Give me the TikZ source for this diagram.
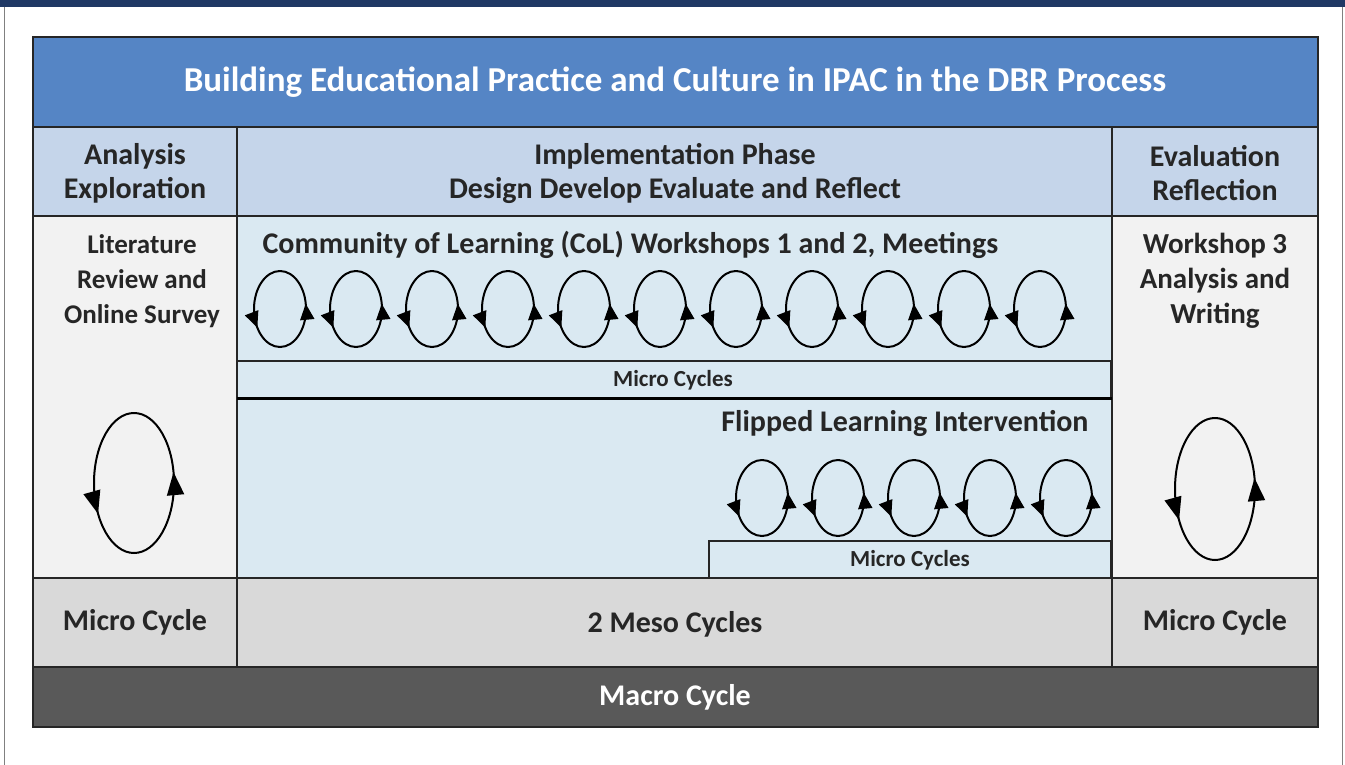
\documentclass[tikz,border=0pt]{standalone}
\usepackage{fontspec}
\setmainfont{Carlito}
\usetikzlibrary{arrows.meta}
\usetikzlibrary{decorations.markings}

\definecolor{navy}{RGB}{31,56,100}
\definecolor{titleblue}{RGB}{85,133,197}
\definecolor{headblue}{RGB}{197,213,234}
\definecolor{cyanfill}{RGB}{218,233,242}
\definecolor{panelgrey}{RGB}{242,242,242}
\definecolor{rowgrey}{RGB}{217,217,217}
\definecolor{macrogrey}{RGB}{89,89,89}
\definecolor{edge}{RGB}{38,38,38}

\begin{document}
\begin{tikzpicture}[x=1pt,y=1pt,
    cell/.style={draw=edge,line width=1.6pt},
    txt/.style={font=\bfseries\fontsize{30}{34}\selectfont,text=black!85,align=center},
    smalltxt/.style={font=\bfseries\fontsize{23}{26}\selectfont,text=black!85},
    smallcyc/.style={line width=2pt,postaction={decorate},decoration={markings,
        mark=at position 0.344 with {\arrow{Triangle[length=16pt,width=14pt]}},
        mark=at position 0.776 with {\arrow{Triangle[length=16pt,width=14pt]}}}},
    bigcyc/.style={line width=2pt,postaction={decorate},decoration={markings,
        mark=at position 0.339 with {\arrow{Triangle[length=23pt,width=17pt]}},
        mark=at position 0.781 with {\arrow{Triangle[length=23pt,width=17pt]}}}},
  ]
    \useasboundingbox (0,0) rectangle (1345,-765);
    \fill[white] (0,0) rectangle (1345,-765);

    % slide frame
    \fill[navy] (0,0) rectangle (1345,-7);
    \draw[gray,line width=1pt] (4,-7) -- (4,-765);
    \draw[gray,line width=1pt] (1342,-7) -- (1342,-765);

    % title and phase heads
    \filldraw[cell,fill=titleblue] (33,-37) rectangle (1318,-127);
    \filldraw[cell,fill=headblue] (33,-127) rectangle (237,-216);
    \filldraw[cell,fill=headblue] (237,-127) rectangle (1112,-216);
    \filldraw[cell,fill=headblue] (1112,-127) rectangle (1318,-216);

    % content
    \filldraw[cell,fill=panelgrey] (33,-216) rectangle (237,-578);
    \filldraw[cell,fill=cyanfill] (237,-216) rectangle (1112,-578);
    \filldraw[cell,fill=panelgrey] (1112,-216) rectangle (1318,-578);
    \filldraw[cell,fill=cyanfill] (237,-361) rectangle (1111,-398);
    \draw[line width=3pt] (237,-398) -- (1112,-398);
    \filldraw[cell,fill=cyanfill] (709,-541) rectangle (1111,-578);
    \draw[line width=3pt] (709,-578) -- (1112,-578);

    % cycle rows
    \filldraw[cell,fill=rowgrey] (33,-578) rectangle (237,-667);
    \filldraw[cell,fill=rowgrey] (237,-578) rectangle (1112,-667);
    \filldraw[cell,fill=rowgrey] (1112,-578) rectangle (1318,-667);
    \filldraw[cell,fill=macrogrey] (33,-667) rectangle (1318,-727);

    \node[txt,text=white,font=\bfseries\fontsize{35}{40}\selectfont] (title) at (675,-82)
        {Building Educational Practice and Culture in IPAC in the DBR Process};
    \node[txt] (analysis) at (135,-173) {Analysis\\Exploration};
    \node[txt] (implement) at (675,-173) {Implementation Phase\\Design Develop Evaluate and Reflect};
    \node[txt] (evaluation) at (1215,-173) {Evaluation\\Reflection};

    \node[txt,font=\bfseries\fontsize{27}{35}\selectfont] (literature) at (142,-281) {Literature\\Review and\\Online Survey};
    \node[txt,anchor=west] (col) at (259,-245) {Community of Learning (CoL) Workshops 1 and 2, Meetings};
    \node[txt,font=\bfseries\fontsize{29}{35}\selectfont] (workshop) at (1215,-281) {Workshop 3\\Analysis and\\Writing};
    \node[smalltxt] (micro1) at (673,-380) {Micro Cycles};
    \node[txt,anchor=east] (flipped) at (1092,-423) {Flipped Learning Intervention};
    \node[smalltxt] (micro2) at (910,-560) {Micro Cycles};

    \node[txt] (leftmicro) at (135,-622) {Micro Cycle};
    \node[txt] (meso) at (675,-624) {2 Meso Cycles};
    \node[txt] (rightmicro) at (1215,-622) {Micro Cycle};
    \node[txt,text=white] (macro) at (675,-697) {Macro Cycle};

    % micro cycles, drawn from the top point round to the left
    \foreach \i in {0,...,10}
        \draw[smallcyc] (280+76*\i,-271) arc [start angle=90, end angle=450, x radius=26, y radius=38];
    \foreach \i in {0,...,4}
        \draw[smallcyc] (762+76*\i,-460) arc [start angle=90, end angle=450, x radius=26, y radius=38];
    \draw[bigcyc] (134,-413) arc [start angle=90, end angle=450, x radius=40, y radius=70];
    \draw[bigcyc] (1215,-418) arc [start angle=90, end angle=450, x radius=40, y radius=71];
\end{tikzpicture}
\end{document}
